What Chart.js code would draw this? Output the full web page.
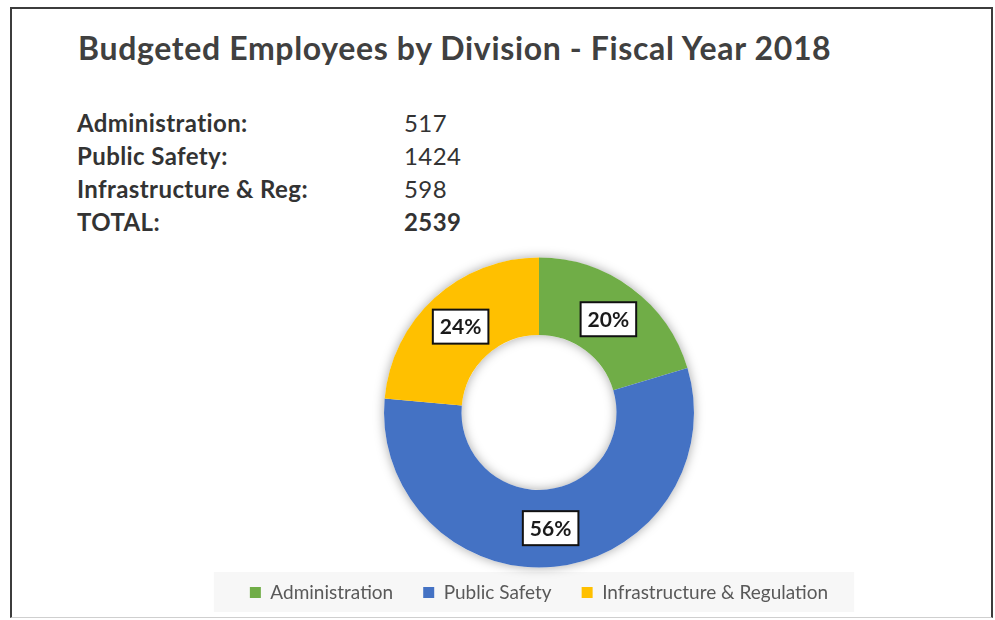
<!DOCTYPE html>
<html lang="en">
<head>
<meta charset="utf-8">
<title>Budgeted Employees by Division</title>
<script src="https://cdn.jsdelivr.net/npm/chart.js@4.4.1/dist/chart.umd.min.js"></script>
<style>
    html, body { margin: 0; padding: 0; background: #fff; }
    body { width: 995px; height: 620px; position: relative; overflow: hidden; font-family: Lato, "Open Sans", sans-serif; }
    #frame { position: absolute; left: 10px; top: 7px; width: 983px; height: 611px; box-sizing: border-box;
             border: 2px solid #3c3c3c; border-bottom: 1px solid #cfcfcf; }
    #title { position: absolute; left: 78px; top: 32px; margin: 0; font-size: 32px; font-weight: 700;
             letter-spacing: 0.65px; color: #404040; line-height: 1; white-space: nowrap; }
    #summary { position: absolute; left: 77px; top: 106px; border-collapse: collapse; font-size: 24px;
               letter-spacing: 0.4px; color: #333; }
    #summary td { padding: 0; height: 33px; line-height: 33px; white-space: nowrap; }
    #summary td.label { width: 327px; font-weight: 700; }
    #summary tr.total td { font-weight: 700; }
    #chartBox { position: absolute; left: 0; top: 0; width: 995px; height: 620px; }
</style>
</head>
<body>
<div id="frame"></div>
<h1 id="title">Budgeted Employees by Division - Fiscal Year 2018</h1>
<table id="summary"><tbody id="summaryBody"></tbody></table>
<div id="chartBox"><canvas id="divisionChart"></canvas></div>

<script>
// employee counts per division
const divisions = ['Administration', 'Public Safety', 'Infrastructure & Regulation'];
const summaryLabels = ['Administration:', 'Public Safety:', 'Infrastructure & Reg:'];
const employees = [517, 1424, 598];
const sliceColors = ['#70ad47', '#4472c4', '#ffc000'];
const totalLabel = 'TOTAL:';

const totalEmployees = employees.reduce((a, b) => a + b, 0);

function fillSummary() {
    const tbody = document.getElementById('summaryBody');
    let rows = '';
    for (let i = 0; i < employees.length; i++) {
        rows += `<tr><td class="label">${summaryLabels[i].replace('&', '&amp;')}</td><td>${employees[i]}</td></tr>`;
    }
    rows += `<tr class="total"><td class="label">${totalLabel}</td><td>${totalEmployees}</td></tr>`;
    tbody.innerHTML = rows;
}

// soft shadow under the ring
const ringShadow = {
    id: 'ringShadow',
    beforeDatasetsDraw(chart) {
        const arc = chart.getDatasetMeta(0).data[0];
        if (!arc) return;
        const { x, y, outerRadius, innerRadius } = arc.getProps(['x', 'y', 'outerRadius', 'innerRadius'], true);
        const ctx = chart.ctx;
        ctx.save();
        ctx.shadowColor = 'rgba(0, 0, 0, 0.35)';
        ctx.shadowBlur = 11;
        ctx.fillStyle = '#fff';
        ctx.beginPath();
        ctx.arc(x, y, outerRadius, 0, Math.PI * 2);
        ctx.arc(x, y, innerRadius, 0, Math.PI * 2, true);
        ctx.fill();
        ctx.restore();
    }
};

// boxed percentage labels in the middle of each slice
const percentLabels = {
    id: 'percentLabels',
    afterDatasetsDraw(chart) {
        const ctx = chart.ctx;
        const meta = chart.getDatasetMeta(0);
        ctx.save();
        ctx.font = 'bold 21px Lato';
        ctx.textAlign = 'center';
        ctx.textBaseline = 'middle';
        meta.data.forEach((arc, i) => {
            const pos = arc.tooltipPosition();
            const text = Math.round(employees[i] / totalEmployees * 100) + '%';
            const w = ctx.measureText(text).width + 14;
            const h = 34;
            ctx.fillStyle = '#fff';
            ctx.fillRect(pos.x - w / 2, pos.y - h / 2, w, h);
            ctx.lineWidth = 2;
            ctx.strokeStyle = '#111';
            ctx.strokeRect(pos.x - w / 2, pos.y - h / 2, w, h);
            ctx.fillStyle = '#1a1a1a';
            ctx.fillText(text, pos.x, pos.y + 1);
        });
        ctx.restore();
    }
};

// light panel behind the legend row
const legendPanel = {
    id: 'legendPanel',
    beforeDraw(chart) {
        const boxes = chart.legend && chart.legend.legendHitBoxes;
        if (!boxes || !boxes.length) return;
        const first = boxes[0];
        const last = boxes[boxes.length - 1];
        const left = first.left - 36;
        const right = last.left + last.width + 26;
        const ctx = chart.ctx;
        ctx.save();
        ctx.fillStyle = '#f7f7f7';
        ctx.fillRect(left, first.top - 11, right - left, 40);
        ctx.restore();
    }
};

function drawChart() {
    const ctx = document.getElementById('divisionChart').getContext('2d');
    return new Chart(ctx, {
        type: 'doughnut',
        data: {
            labels: divisions,
            datasets: [{
                data: employees,
                backgroundColor: sliceColors,
                borderWidth: 0,
                radius: 155,
                cutout: '50%'
            }]
        },
        options: {
            responsive: true,
            maintainAspectRatio: false,
            animation: false,
            events: [],
            layout: { padding: { left: 83, right: 0, top: 272, bottom: 8 } },
            plugins: {
                tooltip: { enabled: false },
                legend: {
                    position: 'bottom',
                    labels: {
                        color: '#595959',
                        boxWidth: 11,
                        boxHeight: 11,
                        padding: 30,
                        font: { family: 'Lato', size: 19 }
                    }
                }
            }
        },
        plugins: [legendPanel, ringShadow, percentLabels]
    });
}

fillSummary();
drawChart();
</script>
</body>
</html>
